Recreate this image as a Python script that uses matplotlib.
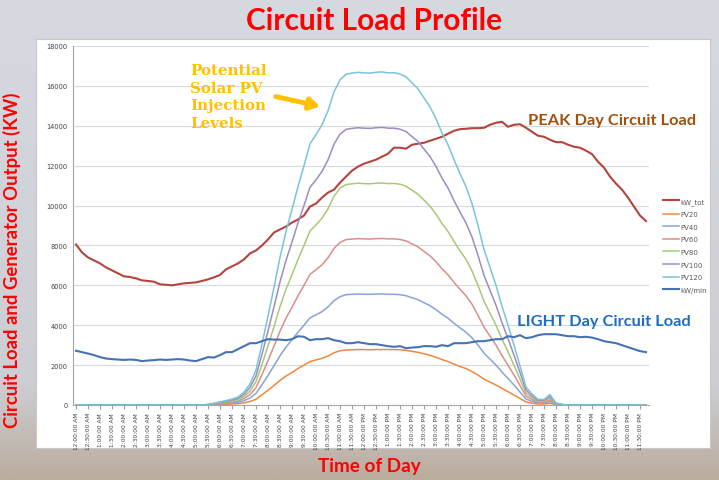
import numpy as np
import matplotlib
matplotlib.use("Agg")
import matplotlib.pyplot as plt
from matplotlib.patches import Rectangle

# ─── DATA (15-minute readings, 12:00 AM .. 11:45 PM) ───────────────────────────

kw_tot = [8050, 7650, 7400, 7250, 7100, 6900, 6750, 6600, 6450, 6420,
          6350, 6250, 6220, 6180, 6050, 6030, 6000, 6050, 6100, 6120,
          6150, 6220, 6300, 6400, 6520, 6800, 6950, 7100, 7300, 7600,
          7750, 8000, 8300, 8650, 8800, 8950, 9150, 9300, 9500, 9950,
          10100, 10400, 10650, 10800, 11150, 11450, 11750, 11950, 12100, 12200,
          12300, 12450, 12600, 12900, 12900, 12850, 13050, 13100, 13150, 13250,
          13350, 13450, 13600, 13750, 13830, 13850, 13880, 13880, 13900, 14050,
          14150, 14200, 13950, 14050, 14080, 13900, 13700, 13500, 13450, 13300,
          13180, 13180, 13050, 12950, 12900, 12750, 12580, 12200, 11900, 11450,
          11100, 10800, 10400, 9950, 9500, 9220]

kw_min = [2720, 2650, 2580, 2500, 2400, 2330, 2300, 2280, 2260, 2280,
          2260, 2200, 2230, 2250, 2280, 2260, 2280, 2300, 2280, 2230,
          2200, 2300, 2400, 2380, 2500, 2650, 2650, 2800, 2950, 3100,
          3100, 3200, 3300, 3280, 3280, 3250, 3300, 3450, 3420, 3250,
          3300, 3300, 3350, 3250, 3200, 3100, 3100, 3150, 3100, 3050,
          3050, 3000, 2950, 2920, 2950, 2850, 2880, 2900, 2950, 2950,
          2920, 3000, 2950, 3100, 3100, 3100, 3150, 3200, 3200, 3250,
          3300, 3300, 3450, 3400, 3500, 3350, 3400, 3500, 3550, 3550,
          3550, 3500, 3450, 3450, 3400, 3420, 3380, 3300, 3200, 3150,
          3100, 3000, 2900, 2800, 2700, 2650]

night_am = [0] * 22
night_pm = [0] * 14

pv20 = night_am + [5, 15, 30, 40, 50, 70, 110, 175, 290, 510,
                   740, 980, 1230, 1450, 1630, 1830, 2000, 2180, 2260, 2340,
                   2460, 2620, 2720, 2760, 2770, 2780, 2780, 2770, 2780, 2780,
                   2780, 2780, 2770, 2740, 2690, 2640, 2570, 2490, 2390, 2280,
                   2180, 2050, 1930, 1830, 1680, 1500, 1300, 1150, 1000, 830,
                   670, 500, 330, 150, 90, 50, 50, 90, 20, 5] + night_pm

pv40 = night_am + [10, 30, 55, 75, 100, 130, 220, 350, 580, 1020,
                   1480, 1970, 2470, 2900, 3270, 3650, 4000, 4370, 4520, 4680,
                   4920, 5230, 5430, 5530, 5550, 5560, 5550, 5550, 5560, 5570,
                   5550, 5550, 5530, 5480, 5380, 5280, 5130, 4980, 4780, 4550,
                   4350, 4100, 3870, 3650, 3370, 3000, 2600, 2300, 2000, 1650,
                   1330, 1000, 650, 300, 185, 95, 95, 175, 35, 10] + night_pm

pv60 = night_am + [15, 45, 80, 110, 150, 200, 325, 525, 875, 1525,
                   2225, 2950, 3700, 4350, 4900, 5475, 6000, 6550, 6780, 7030,
                   7380, 7850, 8150, 8290, 8320, 8340, 8330, 8320, 8340, 8350,
                   8330, 8330, 8300, 8230, 8080, 7930, 7700, 7480, 7180, 6830,
                   6530, 6150, 5800, 5480, 5050, 4500, 3900, 3450, 3000, 2480,
                   2000, 1500, 980, 450, 275, 140, 140, 260, 50, 15] + night_pm

pv80 = night_am + [20, 60, 110, 150, 200, 270, 430, 700, 1170, 2030,
                   2970, 3930, 4930, 5800, 6530, 7300, 8000, 8730, 9030, 9370,
                   9830, 10470, 10870, 11050, 11090, 11120, 11100, 11090, 11120, 11130,
                   11100, 11110, 11070, 10970, 10770, 10570, 10270, 9970, 9570, 9100,
                   8700, 8200, 7730, 7300, 6730, 6000, 5200, 4600, 4000, 3300,
                   2670, 2000, 1300, 600, 370, 190, 190, 350, 70, 20] + night_pm

pv100 = night_am + [25, 75, 130, 180, 250, 330, 540, 880, 1460, 2540,
                    3710, 4920, 6170, 7250, 8170, 9130, 10000, 10920, 11290, 11710,
                    12290, 13080, 13580, 13820, 13870, 13900, 13880, 13870, 13900, 13920,
                    13880, 13880, 13830, 13710, 13460, 13210, 12830, 12460, 11960, 11380,
                    10880, 10250, 9670, 9130, 8420, 7500, 6500, 5750, 5000, 4130,
                    3330, 2500, 1630, 750, 460, 230, 230, 430, 80, 25] + night_pm

pv120 = night_am + [30, 90, 160, 220, 300, 400, 650, 1050, 1750, 3050,
                    4450, 5900, 7400, 8700, 9800, 10950, 12000, 13100, 13550, 14050,
                    14750, 15700, 16300, 16580, 16640, 16680, 16650, 16640, 16680, 16700,
                    16650, 16660, 16600, 16450, 16150, 15850, 15400, 14950, 14350, 13650,
                    13050, 12300, 11600, 10950, 10100, 9000, 7800, 6900, 6000, 4950,
                    4000, 3000, 1950, 900, 550, 280, 280, 520, 100, 30] + night_pm

tick_labels = ["12:00:00 AM", "12:30:00 AM", "1:00:00 AM", "1:30:00 AM", "2:00:00 AM", "2:30:00 AM",
               "3:00:00 AM", "3:30:00 AM", "4:00:00 AM", "4:30:00 AM", "5:00:00 AM", "5:30:00 AM",
               "6:00:00 AM", "6:30:00 AM", "7:00:00 AM", "7:30:00 AM", "8:00:00 AM", "8:30:00 AM",
               "9:00:00 AM", "9:30:00 AM", "10:00:00 AM", "10:30:00 AM", "11:00:00 AM", "11:30:00 AM",
               "12:00:00 PM", "12:30:00 PM", "1:00:00 PM", "1:30:00 PM", "2:00:00 PM", "2:30:00 PM",
               "3:00:00 PM", "3:30:00 PM", "4:00:00 PM", "4:30:00 PM", "5:00:00 PM", "5:30:00 PM",
               "6:00:00 PM", "6:30:00 PM", "7:00:00 PM", "7:30:00 PM", "8:00:00 PM", "8:30:00 PM",
               "9:00:00 PM", "9:30:00 PM", "10:00:00 PM", "10:30:00 PM", "11:00:00 PM", "11:30:00 PM"]

series = [("kW_tot", kw_tot, "#b3443e", 1.5),
          ("PV20", pv20, "#f0883a", 1.1),
          ("PV40", pv40, "#86a4d6", 1.1),
          ("PV60", pv60, "#da8e8a", 1.1),
          ("PV80", pv80, "#a8c878", 1.1),
          ("PV100", pv100, "#9f8bc0", 1.1),
          ("PV120", pv120, "#78c4da", 1.1),
          ("kW/min", kw_min, "#4572b4", 1.5)]

# ─── PLOT ──────────────────────────────────────────────────────────────────────

W, H = 719, 481


def px(x, y):
    return x / W, 1 - y / H


fig = plt.figure(figsize=(W / 100, H / 100), dpi=100)

# background stand-in for the photo
bg = fig.add_axes([0, 0, 1, 1], zorder=-10)
top = np.array([214, 217, 224]) / 255
mid = np.array([205, 206, 212]) / 255
bot = np.array([186, 172, 158]) / 255
t = np.linspace(0, 1, 200)[:, None]
grad = np.where(t < 0.8, top + (mid - top) * (t / 0.8), mid + (bot - mid) * ((t - 0.8) / 0.2))
bg.imshow(grad[:, None, :], aspect="auto", extent=[0, 1, 0, 1])
bg.axis("off")

fig.patches.append(Rectangle(px(36, 449), 674 / W, 409 / H, transform=fig.transFigure,
                             facecolor="white", edgecolor="#c8c8c8", lw=0.8, zorder=-5))

x0, y0 = px(73, 406)
x1, y1 = px(649, 47)
ax = fig.add_axes([x0, y0, x1 - x0, y1 - y0])
ax.set_facecolor("none")

slots = np.arange(len(kw_tot))
for name, vals, col, lw in series:
    ax.plot(slots, vals, color=col, lw=lw, label=name)

ax.set_xlim(-0.5, len(kw_tot) - 0.5)
ax.set_ylim(0, 18000)
ax.set_yticks(np.arange(0, 18001, 2000))
ax.set_xticks(slots[::2])
ax.set_xticklabels(tick_labels, rotation=90, fontsize=4.2, color="#404040")
ax.tick_params(axis="y", labelsize=4.8, labelcolor="#404040", length=0, pad=4)
ax.tick_params(axis="x", length=3, color="#a0a0a0", pad=2)
ax.grid(axis="y", color="#d9d9d9", lw=0.8)
ax.set_axisbelow(True)
for s in ["top", "right"]:
    ax.spines[s].set_visible(False)
for s in ["left", "bottom"]:
    ax.spines[s].set_color("#a6a6a6")
    ax.spines[s].set_linewidth(0.8)

leg = ax.legend(loc="upper left", bbox_to_anchor=px(660, 196), bbox_transform=fig.transFigure,
                frameon=False, fontsize=5, handlelength=2.4, labelspacing=0.95,
                handletextpad=0.2, borderaxespad=0)
for txt in leg.get_texts():
    txt.set_color("#595959")

# ─── TEXT ──────────────────────────────────────────────────────────────────────

sans = ["Lato", "DejaVu Sans"]
fig.text(*px(374, 21), "Circuit Load Profile", color="#ff0000", fontsize=21.5,
         fontweight="bold", family=sans, ha="center", va="center")
fig.text(*px(12, 260), "Circuit Load and Generator Output (KW)", color="#ff0000", fontsize=13.3,
         fontweight="bold", family=sans, ha="center", va="center", rotation=90)
fig.text(*px(369, 467), "Time of Day", color="#ff0000", fontsize=13.6,
         fontweight="bold", family=sans, ha="center", va="center")

fig.text(*px(190, 64), "Potential\nSolar PV\nInjection\nLevels", color="#ffc000", fontsize=10.8,
         fontweight="bold", family=["DejaVu Serif"], ha="left", va="top", linespacing=1.33)
ax.annotate("", xy=px(323, 108), xytext=px(273, 97), xycoords="figure fraction",
            textcoords="figure fraction",
            arrowprops=dict(arrowstyle="-|>,head_width=0.35,head_length=0.6", color="#ffc000", lw=3.5))

fig.text(*px(612, 121), "PEAK Day Circuit Load", color="#a0500f", fontsize=11.8,
         fontweight="bold", family=sans, ha="center", va="center")
fig.text(*px(604, 322), "LIGHT Day Circuit Load", color="#1b6ec2", fontsize=11.8,
         fontweight="bold", family=sans, ha="center", va="center")

fig.savefig("out.png", dpi=100)
